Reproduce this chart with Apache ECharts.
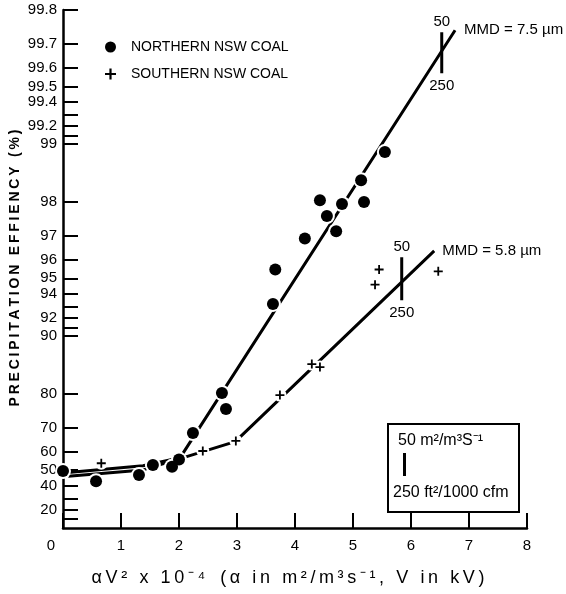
<!DOCTYPE html>
<html>
<head>
<meta charset="utf-8">
<script src="https://cdn.jsdelivr.net/npm/echarts@6/dist/echarts.min.js"></script>
<style>
  html, body { margin: 0; padding: 0; background: #fff; }
  #chart { width: 566px; height: 594px; }
</style>
</head>
<body>
<div id="chart"></div>
<script>
// measured points (x = alpha V^2 x 1e-4, y = efficiency %)
const northX = [0.0, 0.57, 1.31, 1.55, 1.88, 2.0, 2.24, 2.74, 2.81, 3.62, 3.66, 4.17, 4.43, 4.55, 4.71, 4.81, 5.14, 5.19, 5.55];
const northY = [49.5, 43, 47, 53, 52, 56, 68, 80.2, 76, 93.2, 95.5, 96.9, 98.04, 97.63, 97.16, 97.95, 98.46, 98.0, 98.9];
const southX = [0.66, 2.41, 2.98, 3.74, 4.29, 4.43, 5.38, 5.45, 6.47];
const southY = [54, 60.3, 64.8, 79.7, 86, 85.5, 94.6, 95.5, 95.4];

// fitted lines
const northFitX = [0.09, 1.38, 2.02, 6.76];
const northFitY = [48.6, 52.6, 57, 99.745];
const southFitX = [0.09, 1.38, 2.02, 2.97, 6.40];
const southFitY = [46.2, 50.2, 56.5, 64.5, 96.4];

// 50 / 250 marker bars
const northBarX = 6.53;
const northBarY = [99.573, 99.739];
const southBarX = 5.84;
const southBarY = [93.5, 96.12];

// y axis (probability style scale)
const yLabels = [99.8, 99.7, 99.6, 99.5, 99.4, 99.2, 99, 98, 97, 96, 95, 94, 92, 90, 80, 70, 60, 50, 40, 20];
const yTicks = [99.8, 99.7, 99.6, 99.5, 99.4, 99.3, 99.2, 99.1, 99, 98, 97, 96, 95, 94, 93, 92, 91, 90, 80, 70, 60, 50, 40, 30, 20, 10];

const tf = e => -Math.log10(100 - e);
const pair = (xs, ys) => xs.map((x, i) => [x, tf(ys[i])]);
const spread = s => s.split('').join('\u2009');
const font = '"Liberation Sans", Arial, sans-serif';
const ink = '#000';
const plusPath = 'path://M4,0h2v4h4v2h-4v4h-2v-4h-4v-2h4z';

const chart = echarts.init(document.getElementById('chart'));

const barSeries = (x, ys) => ({
  type: 'line',
  data: [
    { value: [x, tf(ys[0])], label: { show: true, position: 'bottom', distance: 5, formatter: '250' } },
    { value: [x, tf(ys[1])], label: { show: true, position: 'top', distance: 3, formatter: '50' } }
  ],
  symbol: 'circle',
  symbolSize: 0.1,
  lineStyle: { color: ink, width: 3 },
  itemStyle: { color: ink },
  label: { color: ink, fontSize: 15, fontFamily: font },
  z: 2,
  silent: true
});

// white halo under markers, breaks the fitted lines like the original plot
const haloSeries = (xs, ys, size) => ({
  type: 'scatter',
  data: pair(xs, ys),
  symbol: 'circle',
  symbolSize: size,
  itemStyle: { color: '#fff', opacity: 1 },
  z: 4,
  silent: true
});

const option = {
  animation: false,
  grid: { left: 63, right: 39, top: 10, bottom: 66 },
  legend: {
    orient: 'vertical',
    left: 100,
    top: 34,
    itemWidth: 11,
    itemHeight: 11,
    itemGap: 11,
    textStyle: { color: ink, fontSize: 14, fontFamily: font, lineHeight: 16, padding: [0, 0, 0, 10] },
    data: [
      { name: 'NORTHERN NSW COAL', icon: 'circle' },
      { name: 'SOUTHERN NSW COAL', icon: plusPath }
    ]
  },
  xAxis: {
    type: 'value',
    min: 0,
    max: 8,
    interval: 1,
    axisLine: { onZero: false, lineStyle: { color: ink, width: 2.5 } },
    axisTick: { inside: true, length: 15, lineStyle: { color: ink, width: 2 } },
    axisLabel: {
      color: ink, fontSize: 15, fontFamily: font, margin: 10, alignMinLabel: 'right',
      formatter: v => (v === 0 ? '{z|0}' : String(v)),
      rich: { z: { fontSize: 15, fontFamily: font, color: ink, padding: [0, 8, 0, 0] } }
    },
    splitLine: { show: false }
  },
  yAxis: {
    type: 'value',
    min: tf(0),
    max: tf(99.8),
    axisLine: { show: true, onZero: false, lineStyle: { color: ink, width: 2.5 } },
    axisTick: { show: true, inside: true, length: 15, lineStyle: { color: ink, width: 2 }, customValues: yTicks.map(tf) },
    axisLabel: {
      color: ink, fontSize: 15, fontFamily: font, margin: 6,
      customValues: yLabels.map(tf),
      formatter: v => String(Math.round((100 - Math.pow(10, -v)) * 10) / 10)
    },
    splitLine: { show: false }
  },
  series: [
    {
      type: 'line',
      data: pair(northFitX, northFitY),
      symbol: 'none',
      lineStyle: { color: ink, width: 3 },
      endLabel: { show: true, formatter: 'MMD = 7.5 µm', color: ink, fontSize: 15, fontFamily: font, distance: 9 },
      z: 2,
      silent: true
    },
    {
      type: 'line',
      data: pair(southFitX, southFitY),
      symbol: 'none',
      lineStyle: { color: ink, width: 3 },
      endLabel: { show: true, formatter: 'MMD = 5.8 µm', color: ink, fontSize: 15, fontFamily: font, distance: 8 },
      z: 2,
      silent: true
    },
    barSeries(northBarX, northBarY),
    barSeries(southBarX, southBarY),
    haloSeries(northX, northY, 16),
    haloSeries(southX, southY, 13),
    {
      name: 'NORTHERN NSW COAL',
      type: 'scatter',
      data: pair(northX, northY),
      symbol: 'circle',
      symbolSize: 12,
      itemStyle: { color: ink, opacity: 1 },
      z: 5
    },
    {
      name: 'SOUTHERN NSW COAL',
      type: 'scatter',
      data: pair(southX, southY),
      symbol: plusPath,
      symbolSize: 9,
      itemStyle: { color: ink, opacity: 1 },
      z: 5
    }
  ],
  graphic: [
    {
      type: 'text',
      x: 15, y: 268,
      rotation: Math.PI / 2,
      style: {
        text: spread('PRECIPITATION EFFIENCY (%)'),
        font: 'bold 14px ' + font,
        fill: ink, align: 'center', verticalAlign: 'middle'
      }
    },
    {
      type: 'text',
      x: 288, y: 578,
      style: {
        text: spread('αV² x 10⁻⁴') + '   ' + spread('(α in m²/m³s⁻¹, V in kV)'),
        font: '18px ' + font,
        fill: ink, align: 'center', verticalAlign: 'middle'
      }
    },
    {
      type: 'group',
      left: 387, top: 423,
      children: [
        { type: 'rect', shape: { x: 0, y: 0, width: 131, height: 88 }, style: { fill: '#fff', stroke: ink, lineWidth: 2 } },
        { type: 'text', x: 10, y: 17, style: { text: '50 m²/m³S⁻¹', font: '16px ' + font, fill: ink, verticalAlign: 'middle' } },
        { type: 'rect', shape: { x: 15, y: 29, width: 3, height: 23 }, style: { fill: ink } },
        { type: 'text', x: 5, y: 69, style: { text: '250 ft²/1000 cfm', font: '16px ' + font, fill: ink, verticalAlign: 'middle' } }
      ]
    }
  ]
};

chart.setOption(option);
</script>
</body>
</html>
